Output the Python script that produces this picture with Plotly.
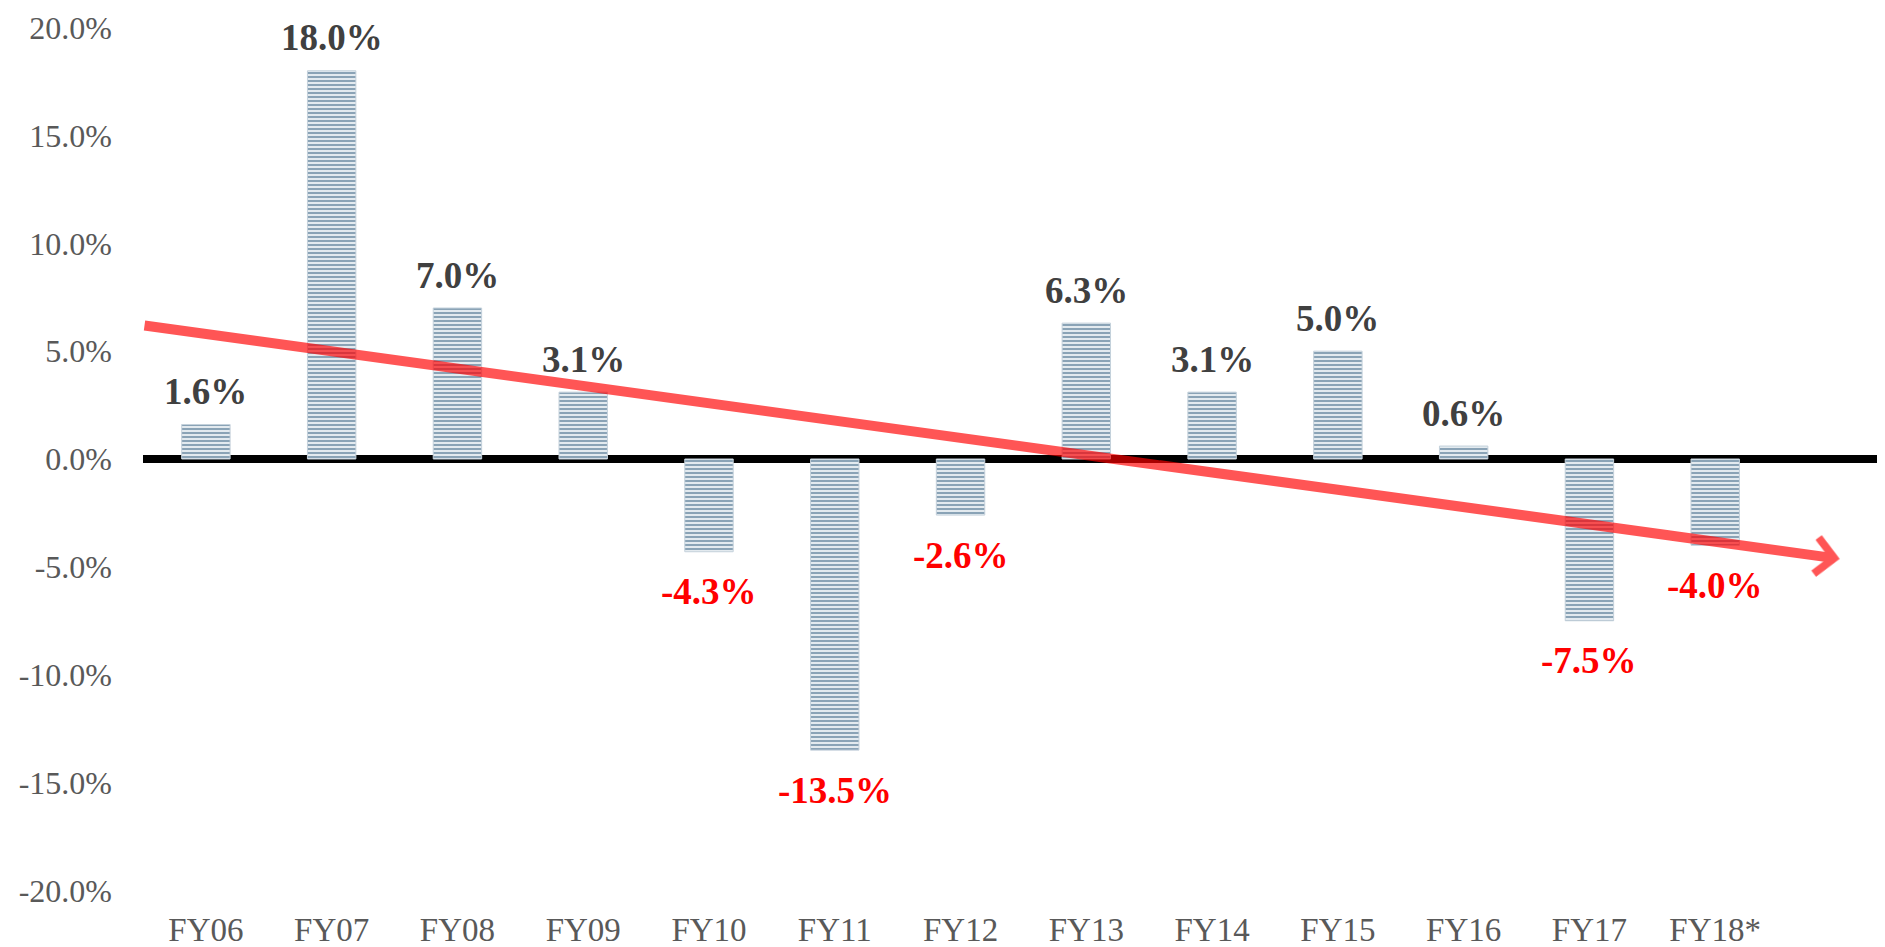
import plotly.graph_objects as go

categories = ["FY06", "FY07", "FY08", "FY09", "FY10", "FY11", "FY12",
              "FY13", "FY14", "FY15", "FY16", "FY17", "FY18*"]
growth_pct = [1.6, 18.0, 7.0, 3.1, -4.3, -13.5, -2.6, 6.3, 3.1, 5.0, 0.6, -7.5, -4.0]
y_ticks = [-20, -15, -10, -5, 0, 5, 10, 15, 20]
trend_start = (-0.5, 6.2)
trend_end = (12.99, -4.63)

FONT = "Liberation Serif"
x_idx = list(range(len(categories)))

fig = go.Figure()
fig.add_trace(go.Bar(
    x=x_idx, y=growth_pct, width=0.385,
    marker=dict(
        color="#dfe7ed",
        line=dict(color="#c4d1db", width=1),
        pattern=dict(shape="-", fgcolor="#8aa3b6", bgcolor="#e3eaef",
                     size=4, solidity=0.5, fillmode="replace"),
    ),
    hoverinfo="skip",
))

annotations = []
for i, v in enumerate(growth_pct):
    pos = v >= 0
    annotations.append(dict(
        x=i, y=v, xref="x", yref="y",
        text=f"<b>{v:.1f}%</b>", showarrow=False,
        yanchor="middle", xanchor="center",
        yshift=33 if pos else -40,
        font=dict(family=FONT, size=37, color="#404040" if pos else "#ff0000"),
    ))

annotations.append(dict(
    x=trend_end[0], y=trend_end[1], xref="x", yref="y",
    ax=trend_start[0], ay=trend_start[1], axref="x", ayref="y",
    text="", showarrow=True, arrowhead=4, arrowsize=0.7, arrowwidth=10,
    arrowcolor="rgba(255,0,0,0.67)",
))

fig.update_layout(
    width=1877, height=939,
    margin=dict(l=135, r=0, t=19, b=56, autoexpand=False),
    paper_bgcolor="white", plot_bgcolor="white",
    showlegend=False,
    annotations=annotations,
    xaxis=dict(
        tickmode="array", tickvals=x_idx, ticktext=categories,
        range=[-0.5, 13.35], showgrid=False, zeroline=False, showline=False,
        ticks="", tickfont=dict(family=FONT, size=33, color="#595959"),
        ticklabelstandoff=16, automargin=False, ticklabeloverflow="allow",
    ),
    yaxis=dict(
        range=[-20.03, 20.03], tickvals=y_ticks,
        ticktext=[f"{t:.1f}%" for t in y_ticks],
        showgrid=False, zeroline=True, zerolinecolor="#000000", zerolinewidth=8,
        showline=False, ticks="", layer="above traces",
        tickfont=dict(family=FONT, size=32, color="#595959"),
        ticklabelstandoff=30, automargin=False, ticklabeloverflow="allow",
    ),
)

fig.write_html("out.html")
